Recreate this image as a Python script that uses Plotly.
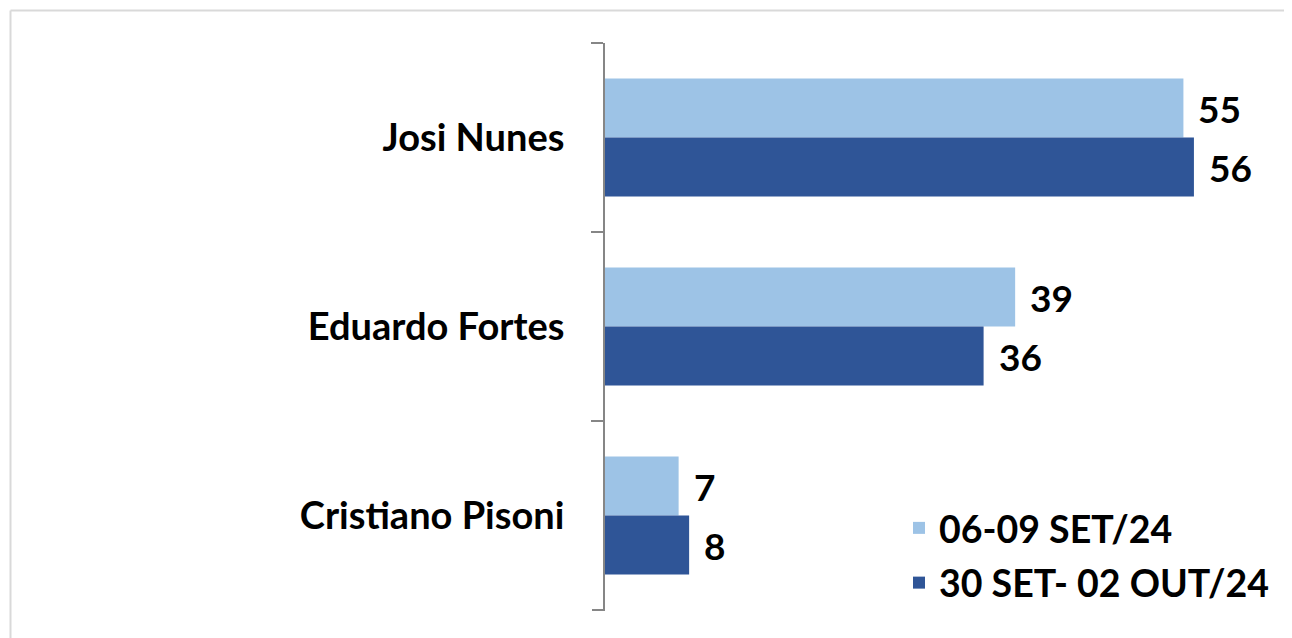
import plotly.graph_objects as go

categories = ["Josi Nunes", "Eduardo Fortes", "Cristiano Pisoni"]
series_names = ["06-09 SET/24", "30 SET- 02 OUT/24"]
values_set = [55, 39, 7]
values_out = [56, 36, 8]
colors = ["#9DC3E6", "#2F5597"]

FONT = "Lato"
FS = 38
FS_VAL = 37
FS_LEG = 37.5

# page body has an 8px margin, so the figure is drawn 8px smaller and offset
OFF = 8
W, H = 1292 - OFF, 638 - OFF
L, R, T, B = 605 - OFF, 56, 43 - OFF, 28
pw = W - L - R
ph = H - T - B

fig = go.Figure()
for name, vals, col in zip(series_names, [values_set, values_out], colors):
    fig.add_trace(go.Bar(
        y=categories, x=vals, name=name, orientation="h",
        marker=dict(color=col, line=dict(width=0)),
        legendgroup=name,
    ))

annotations = []
for vals, shift in [(values_set, 29.5), (values_out, -29.5)]:
    for c, v in zip(categories, vals):
        annotations.append(dict(
            x=v, y=c, xref="x", yref="y", text=str(v), showarrow=False,
            xanchor="left", yanchor="middle", xshift=13, yshift=shift,
            font=dict(family=FONT, size=FS_VAL, color="#000000", weight="bold"),
        ))

def px2x(p):
    return (p - OFF - L) / pw

def py2y(p):
    return (H - B - (p - OFF)) / ph

TICKLEN = 12
shapes = [
    dict(type="line", xref="paper", yref="paper", x0=px2x(10.5), x1=px2x(1300),
         y0=py2y(10.5), y1=py2y(10.5), line=dict(color="#D9D9D9", width=2)),
    dict(type="line", xref="paper", yref="paper", x0=px2x(10.5), x1=px2x(10.5),
         y0=py2y(10.5), y1=py2y(645), line=dict(color="#D9D9D9", width=2)),
    # closing tick at the bottom category boundary
    dict(type="line", xref="paper", yref="paper", x0=-(TICKLEN + 1) / pw, x1=0,
         y0=0, y1=0, line=dict(color="#868686", width=2), layer="above"),
]

fig.update_layout(
    width=W, height=H,
    margin=dict(l=L, r=R, t=T, b=B, pad=0),
    paper_bgcolor="white", plot_bgcolor="white",
    barmode="group", bargap=0.376, bargroupgap=0,
    font=dict(family=FONT, size=FS, color="#000000", weight="bold"),
    xaxis=dict(range=[0, 60], visible=False, showgrid=False, zeroline=False),
    yaxis=dict(
        categoryorder="array", categoryarray=categories, range=[2.5, -0.5],
        showline=True, linecolor="#868686", linewidth=2,
        ticks="outside", tickson="boundaries", ticklen=TICKLEN, tickwidth=2, tickcolor="#868686",
        showgrid=False, zeroline=False, ticklabelstandoff=31,
        tickfont=dict(family=FONT, size=FS, color="#000000", weight="bold"),
    ),
    legend=dict(
        x=px2x(899), y=py2y(497), xanchor="left", yanchor="top",
        bgcolor="rgba(0,0,0,0)", traceorder="grouped", tracegroupgap=3,
        font=dict(family=FONT, size=FS_LEG, color="#000000", weight="bold"),
    ),
    annotations=annotations,
    shapes=shapes,
    showlegend=True,
)

fig.write_html("out.html")
